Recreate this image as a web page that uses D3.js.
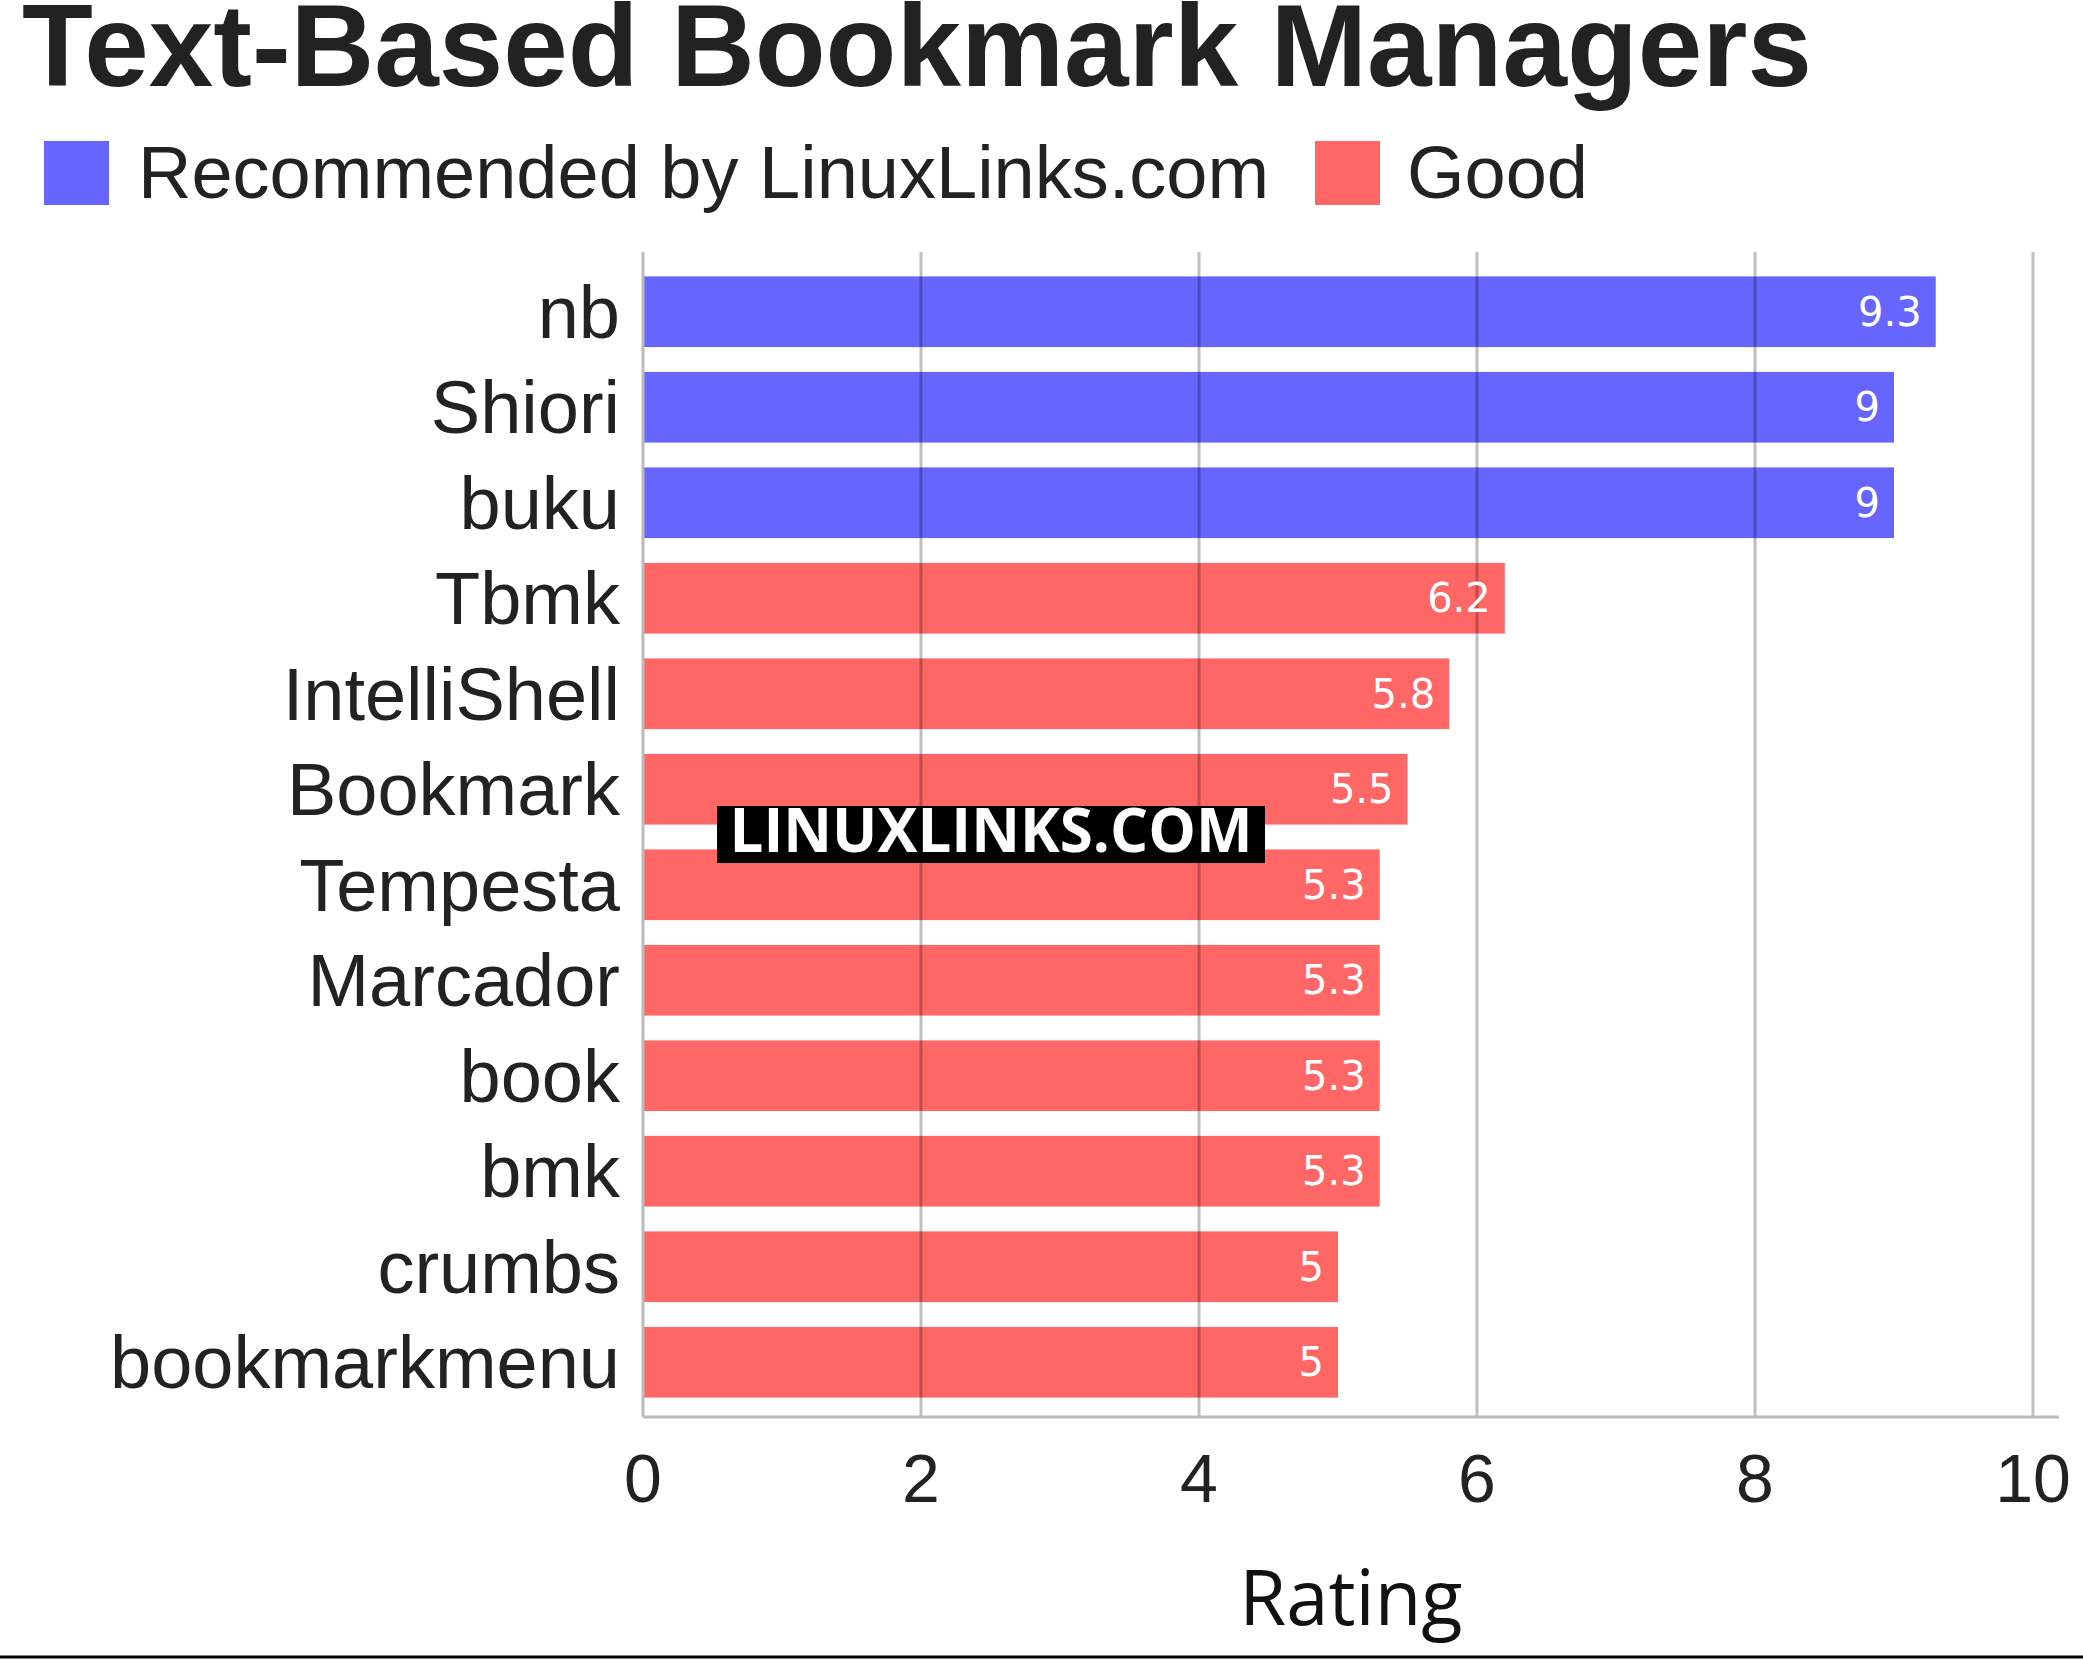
<!DOCTYPE html>
<html><head><meta charset="utf-8">
<script src="https://cdn.jsdelivr.net/npm/d3@7"></script>
<style>body{margin:0;background:#fff}</style></head>
<body><svg id="c" width="2083" height="1661"></svg>
<script>
const categories=["nb","Shiori","buku","Tbmk","IntelliShell","Bookmark","Tempesta","Marcador","book","bmk","crumbs","bookmarkmenu"];
const values=[9.3,9,9,6.2,5.8,5.5,5.3,5.3,5.3,5.3,5,5];
const groups=["rec","rec","rec","good","good","good","good","good","good","good","good","good"];
const legendLabels=["Recommended by LinuxLinks.com","Good"];
const tickValues=[0,2,4,6,8,10];
const colors={rec:"#6666ff",good:"#ff6666"};
const svg=d3.select("#c");
const F="'Liberation Sans',Arial,sans-serif";
const x=d3.scaleLinear().domain([0,10]).range([643,2033]);
const y=d3.scaleBand().domain(categories).range([264,1410]).paddingInner(0.26).paddingOuter(0.13);
svg.append("text").attr("x",22).attr("y",86).attr("font-family",F).attr("font-weight","bold").attr("font-size",116).attr("fill","#222").text("Text-Based Bookmark Managers");
svg.append("rect").attr("x",44).attr("y",141).attr("width",65).attr("height",64).attr("fill",colors.rec);
svg.append("text").attr("x",138).attr("y",198).attr("font-family",F).attr("font-size",74).attr("fill","#222").text(legendLabels[0]);
svg.append("rect").attr("x",1315).attr("y",141).attr("width",65).attr("height",64).attr("fill",colors.good);
svg.append("text").attr("x",1407).attr("y",198).attr("font-family",F).attr("font-size",74).attr("fill","#222").text(legendLabels[1]);
svg.selectAll(".bar").data(values).join("rect").attr("x",x(0)).attr("y",(d,i)=>y(categories[i])).attr("width",d=>x(d)-x(0)).attr("height",y.bandwidth()).attr("fill",(d,i)=>colors[groups[i]]);
svg.selectAll(".g").data(tickValues.slice(1)).join("line").attr("x1",d=>x(d)).attr("x2",d=>x(d)).attr("y1",252).attr("y2",1417).attr("stroke","rgba(0,0,0,0.25)").attr("stroke-width",3);
svg.append("line").attr("x1",x(0)).attr("x2",x(0)).attr("y1",252).attr("y2",1417).attr("stroke","#bbb").attr("stroke-width",3);
svg.append("line").attr("x1",x(0)).attr("x2",2059).attr("y1",1417).attr("y2",1417).attr("stroke","#bbb").attr("stroke-width",3);
svg.selectAll(".v").data(values).join("text").attr("x",d=>x(d)-14).attr("y",(d,i)=>y(categories[i])+y.bandwidth()/2+14).attr("text-anchor","end").attr("font-family","'DejaVu Sans',sans-serif").attr("font-size",40).attr("fill","#fff").text(d=>d);
svg.selectAll(".cl").data(categories).join("text").attr("x",620).attr("y",d=>y(d)+y.bandwidth()/2+26).attr("text-anchor","end").attr("font-family",F).attr("font-size",74).attr("fill","#222").text(d=>d);
svg.selectAll(".t").data(tickValues).join("text").attr("x",d=>x(d)).attr("y",1502).attr("text-anchor","middle").attr("font-family",F).attr("font-size",68).attr("fill","#222").text(d=>d);
svg.append("text").attr("x",1351).attr("y",1625).attr("text-anchor","middle").attr("font-family","'Open Sans',sans-serif").attr("font-size",76).attr("fill","#111").text("Rating");
svg.append("line").attr("x1",0).attr("x2",2083).attr("y1",1657).attr("y2",1657).attr("stroke","#000").attr("stroke-width",3);
svg.append("rect").attr("x",717).attr("y",806).attr("width",548).attr("height",57).attr("fill","#000");
svg.append("text").attr("x",991).attr("y",852).attr("text-anchor","middle").attr("font-family","'Open Sans',sans-serif").attr("font-weight","bold").attr("font-size",60).attr("fill","#fff").text("LINUXLINKS.COM");
</script></body></html>
